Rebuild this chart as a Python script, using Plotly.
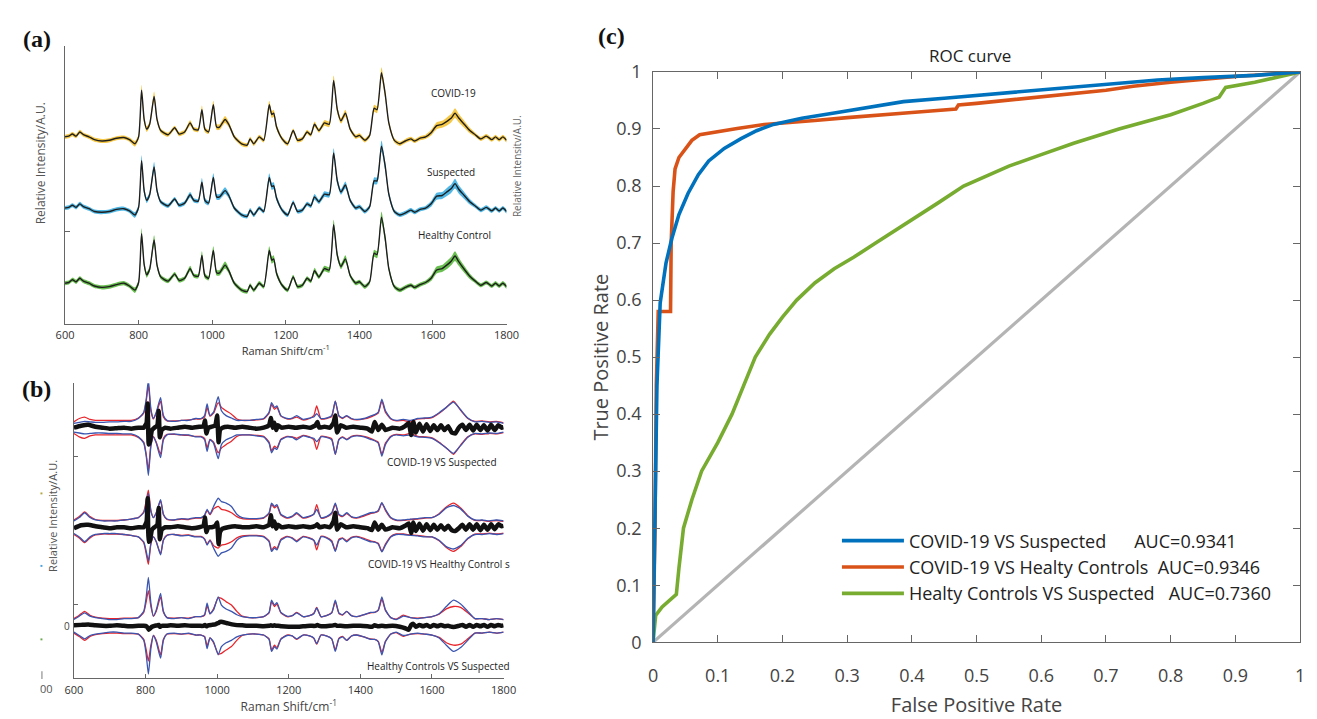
import plotly.graph_objects as go

W, H = 1317, 719

# ---------------- Panel (a): mean Raman spectra ----------------
raman_a = [600, 610, 620, 630, 640, 650, 665, 680, 700, 720,
           740, 760, 775, 790, 800, 808, 815, 822, 830, 842,
           850, 860, 880, 898, 910, 925, 940, 950, 962, 972,
           980, 990, 1003, 1012, 1020, 1035, 1045, 1060, 1080, 1095,
           1103, 1113, 1128, 1140, 1155, 1162, 1167, 1175, 1190, 1205,
           1220, 1232, 1245, 1258, 1268, 1278, 1290, 1305, 1318, 1330,
           1340, 1350, 1362, 1375, 1390, 1400, 1415, 1428, 1440, 1448,
           1460, 1470, 1480, 1495, 1510, 1525, 1540, 1550, 1565, 1580,
           1595, 1610, 1625, 1640, 1650, 1660, 1670, 1685, 1700, 1715,
           1730, 1745, 1760, 1770, 1780, 1790, 1800]

covid_mean = [0.11, 0.12, 0.15, 0.12, 0.18, 0.14, 0.11, 0.07, 0.05, 0.06,
              0.09, 0.10, 0.07, 0.01, 0.11, 0.78, 0.36, 0.22, 0.29, 0.69,
              0.36, 0.20, 0.14, 0.24, 0.15, 0.18, 0.31, 0.22, 0.21, 0.50,
              0.22, 0.18, 0.57, 0.25, 0.25, 0.36, 0.29, 0.11, 0.01, -0.01,
              0.08, 0.01, 0.11, 0.06, 0.57, 0.43, 0.45, 0.25, 0.08, 0.01,
              0.20, 0.06, 0.08, 0.18, 0.14, 0.29, 0.20, 0.31, 0.29, 0.92,
              0.50, 0.34, 0.45, 0.22, 0.11, 0.13, 0.06, 0.13, 0.52, 0.50,
              1.03, 0.73, 0.31, 0.06, 0.01, 0.05, 0.08, 0.05, 0.09, 0.11,
              0.17, 0.27, 0.29, 0.34, 0.38, 0.45, 0.38, 0.29, 0.20, 0.14,
              0.08, 0.12, 0.07, 0.11, 0.07, 0.11, 0.06]

suspected_mean = [0.11, 0.12, 0.15, 0.12, 0.17, 0.13, 0.10, 0.06, 0.05, 0.06,
                  0.09, 0.10, 0.07, 0.01, 0.12, 0.79, 0.36, 0.22, 0.30, 0.70,
                  0.36, 0.20, 0.14, 0.24, 0.15, 0.18, 0.30, 0.22, 0.21, 0.48,
                  0.22, 0.18, 0.55, 0.27, 0.27, 0.36, 0.29, 0.11, 0.01, -0.01,
                  0.08, 0.01, 0.11, 0.06, 0.55, 0.42, 0.43, 0.25, 0.08, 0.01,
                  0.19, 0.06, 0.08, 0.17, 0.14, 0.27, 0.20, 0.31, 0.30, 0.90,
                  0.50, 0.34, 0.44, 0.22, 0.11, 0.13, 0.06, 0.13, 0.50, 0.50,
                  1.00, 0.72, 0.31, 0.06, 0.01, 0.04, 0.08, 0.05, 0.09, 0.11,
                  0.17, 0.28, 0.29, 0.35, 0.39, 0.46, 0.38, 0.29, 0.20, 0.14,
                  0.08, 0.12, 0.07, 0.11, 0.07, 0.11, 0.06]

healthy_mean = [0.11, 0.12, 0.16, 0.13, 0.18, 0.14, 0.11, 0.07, 0.05, 0.06,
                0.09, 0.11, 0.07, 0.01, 0.12, 0.82, 0.38, 0.23, 0.31, 0.73,
                0.37, 0.20, 0.14, 0.24, 0.15, 0.18, 0.32, 0.22, 0.21, 0.51,
                0.22, 0.18, 0.58, 0.26, 0.26, 0.37, 0.29, 0.11, 0.01, -0.01,
                0.08, 0.01, 0.11, 0.06, 0.58, 0.44, 0.46, 0.25, 0.08, 0.01,
                0.20, 0.06, 0.08, 0.18, 0.14, 0.29, 0.20, 0.32, 0.30, 0.95,
                0.51, 0.35, 0.46, 0.22, 0.11, 0.13, 0.06, 0.13, 0.54, 0.52,
                1.06, 0.76, 0.32, 0.06, 0.01, 0.05, 0.08, 0.05, 0.09, 0.12,
                0.18, 0.30, 0.32, 0.38, 0.43, 0.50, 0.42, 0.31, 0.21, 0.14,
                0.08, 0.12, 0.07, 0.11, 0.07, 0.11, 0.06]

spectra_std = [0.03, 0.03, 0.03, 0.03, 0.03, 0.03, 0.03, 0.03, 0.03, 0.03,
               0.03, 0.03, 0.03, 0.04, 0.04, 0.08, 0.05, 0.04, 0.04, 0.07,
               0.04, 0.03, 0.03, 0.03, 0.03, 0.03, 0.04, 0.03, 0.03, 0.06,
               0.04, 0.03, 0.06, 0.04, 0.04, 0.05, 0.04, 0.03, 0.03, 0.03,
               0.03, 0.03, 0.03, 0.03, 0.06, 0.05, 0.05, 0.04, 0.03, 0.03,
               0.03, 0.03, 0.03, 0.03, 0.03, 0.04, 0.03, 0.04, 0.04, 0.07,
               0.05, 0.04, 0.05, 0.03, 0.03, 0.03, 0.03, 0.03, 0.05, 0.05,
               0.08, 0.06, 0.04, 0.03, 0.03, 0.03, 0.03, 0.03, 0.03, 0.03,
               0.04, 0.05, 0.05, 0.06, 0.06, 0.07, 0.06, 0.05, 0.04, 0.03,
               0.03, 0.03, 0.03, 0.03, 0.03, 0.03, 0.03]

groups_a = ["COVID-19", "Suspected", "Healthy Control"]

# ---------------- Panel (b): difference spectra ----------------
raman_b = [600, 615, 630, 645, 660, 680, 700, 720, 740, 760,
           780, 795, 802, 808, 815, 822, 830, 842, 850, 860,
           880, 900, 920, 940, 955, 965, 972, 980, 990, 1003,
           1012, 1025, 1040, 1055, 1070, 1090, 1110, 1130, 1145, 1152,
           1160, 1167, 1178, 1195, 1210, 1222, 1240, 1258, 1270, 1278,
           1290, 1305, 1320, 1330, 1340, 1350, 1362, 1375, 1390, 1410,
           1428, 1440, 1450, 1460, 1470, 1485, 1500, 1520, 1540, 1560,
           1580, 1600, 1620, 1640, 1660, 1680, 1700, 1720, 1740, 1760,
           1780, 1800]

cs_red_env = [0.12, 0.19, 0.22, 0.17, 0.15, 0.15, 0.15, 0.15, 0.15, 0.15,
              0.20, 0.30, 0.55, 0.88, 0.35, 0.18, 0.30, 0.55, 0.22, 0.14,
              0.14, 0.15, 0.16, 0.18, 0.18, 0.22, 0.42, 0.24, 0.30, 0.52,
              0.42, 0.35, 0.28, 0.18, 0.15, 0.15, 0.16, 0.18, 0.30, 0.48,
              0.38, 0.42, 0.24, 0.18, 0.19, 0.22, 0.16, 0.19, 0.25, 0.45,
              0.18, 0.19, 0.23, 0.55, 0.24, 0.19, 0.24, 0.18, 0.16, 0.18,
              0.22, 0.26, 0.30, 0.55, 0.32, 0.18, 0.14, 0.15, 0.12, 0.18,
              0.19, 0.21, 0.30, 0.42, 0.55, 0.36, 0.19, 0.13, 0.14, 0.12,
              0.13, 0.10]
cs_blue_env = [0.09, 0.11, 0.13, 0.12, 0.11, 0.11, 0.12, 0.12, 0.13, 0.13,
               0.19, 0.32, 0.59, 0.99, 0.39, 0.19, 0.32, 0.62, 0.25, 0.15,
               0.13, 0.15, 0.15, 0.19, 0.19, 0.25, 0.49, 0.25, 0.32, 0.64,
               0.35, 0.25, 0.20, 0.15, 0.15, 0.15, 0.17, 0.19, 0.32, 0.52,
               0.42, 0.45, 0.25, 0.19, 0.20, 0.25, 0.17, 0.20, 0.22, 0.29,
               0.19, 0.20, 0.25, 0.55, 0.25, 0.20, 0.25, 0.19, 0.17, 0.19,
               0.24, 0.27, 0.32, 0.59, 0.35, 0.19, 0.15, 0.17, 0.15, 0.19,
               0.20, 0.22, 0.31, 0.42, 0.53, 0.37, 0.20, 0.12, 0.13, 0.11,
               0.12, 0.09]
ch_red_env = [0.15, 0.22, 0.32, 0.22, 0.16, 0.14, 0.14, 0.14, 0.15, 0.17,
              0.20, 0.32, 0.55, 0.77, 0.35, 0.20, 0.30, 0.55, 0.26, 0.16,
              0.15, 0.17, 0.16, 0.19, 0.19, 0.24, 0.35, 0.26, 0.38, 0.43,
              0.37, 0.35, 0.30, 0.22, 0.18, 0.17, 0.17, 0.19, 0.28, 0.47,
              0.40, 0.44, 0.25, 0.19, 0.22, 0.28, 0.19, 0.22, 0.27, 0.47,
              0.19, 0.21, 0.28, 0.48, 0.25, 0.22, 0.28, 0.21, 0.19, 0.23,
              0.28, 0.30, 0.33, 0.50, 0.35, 0.19, 0.14, 0.14, 0.16, 0.17,
              0.19, 0.20, 0.28, 0.42, 0.50, 0.40, 0.24, 0.14, 0.14, 0.12,
              0.14, 0.12]
ch_blue_env = [0.13, 0.20, 0.30, 0.20, 0.15, 0.13, 0.13, 0.13, 0.15, 0.17,
               0.20, 0.30, 0.50, 0.70, 0.33, 0.20, 0.30, 0.57, 0.27, 0.17,
               0.15, 0.18, 0.17, 0.20, 0.20, 0.25, 0.37, 0.27, 0.43, 0.60,
               0.53, 0.50, 0.43, 0.27, 0.20, 0.18, 0.18, 0.20, 0.30, 0.50,
               0.43, 0.47, 0.27, 0.20, 0.23, 0.30, 0.20, 0.23, 0.27, 0.37,
               0.20, 0.22, 0.30, 0.50, 0.27, 0.23, 0.30, 0.22, 0.20, 0.25,
               0.30, 0.31, 0.35, 0.51, 0.37, 0.20, 0.15, 0.15, 0.17, 0.18,
               0.20, 0.20, 0.27, 0.40, 0.45, 0.38, 0.23, 0.15, 0.15, 0.13,
               0.15, 0.13]
hs_red_env = [0.15, 0.22, 0.30, 0.22, 0.18, 0.16, 0.15, 0.15, 0.16, 0.16,
              0.17, 0.28, 0.50, 0.73, 0.40, 0.20, 0.30, 0.60, 0.28, 0.17,
              0.16, 0.17, 0.16, 0.19, 0.19, 0.22, 0.42, 0.25, 0.35, 0.58,
              0.57, 0.50, 0.43, 0.30, 0.20, 0.17, 0.17, 0.19, 0.27, 0.50,
              0.40, 0.45, 0.27, 0.19, 0.21, 0.28, 0.19, 0.21, 0.26, 0.38,
              0.19, 0.21, 0.27, 0.50, 0.26, 0.22, 0.30, 0.21, 0.19, 0.23,
              0.27, 0.28, 0.32, 0.55, 0.32, 0.17, 0.14, 0.22, 0.17, 0.16,
              0.17, 0.19, 0.24, 0.35, 0.40, 0.38, 0.27, 0.15, 0.15, 0.13,
              0.15, 0.13]
hs_blue_env = [0.13, 0.20, 0.27, 0.20, 0.17, 0.15, 0.13, 0.13, 0.15, 0.15,
               0.17, 0.30, 0.60, 1.00, 0.47, 0.20, 0.33, 0.67, 0.30, 0.17,
               0.15, 0.17, 0.15, 0.19, 0.19, 0.23, 0.47, 0.25, 0.33, 0.60,
               0.43, 0.35, 0.30, 0.23, 0.19, 0.17, 0.17, 0.19, 0.28, 0.53,
               0.43, 0.48, 0.28, 0.20, 0.21, 0.27, 0.19, 0.21, 0.25, 0.37,
               0.19, 0.21, 0.27, 0.53, 0.27, 0.23, 0.30, 0.21, 0.19, 0.23,
               0.28, 0.28, 0.33, 0.60, 0.33, 0.17, 0.13, 0.20, 0.17, 0.15,
               0.17, 0.19, 0.25, 0.40, 0.53, 0.45, 0.30, 0.15, 0.15, 0.13,
               0.15, 0.13]

raman_diff = [600, 620, 640, 660, 680, 700, 720, 740, 760, 780,
              795, 803, 806, 809, 812, 818, 825, 833, 837, 840,
              845, 855, 870, 890, 910, 930, 950, 962, 966, 970,
              975, 985, 995, 1000, 1004, 1008, 1015, 1030, 1050, 1070,
              1090, 1110, 1130, 1145, 1150, 1155, 1160, 1165, 1170, 1180,
              1200, 1220, 1240, 1260, 1275, 1280, 1285, 1300, 1315, 1325,
              1330, 1335, 1345, 1360, 1380, 1400, 1420, 1432, 1440, 1450,
              1460, 1470, 1490, 1510, 1525, 1535, 1542, 1548, 1555, 1565,
              1575, 1585, 1595, 1605, 1615, 1625, 1635, 1645, 1655, 1665,
              1675, 1685, 1695, 1705, 1715, 1725, 1735, 1745, 1755, 1765,
              1775, 1785, 1795, 1800]

cs_diff = [0.00, 0.04, 0.06, 0.02, 0.00, -0.02, -0.01, 0.00, -0.02, 0.00,
           0.00, 0.10, 0.50, -0.35, -0.30, -0.05, 0.00, 0.05, 0.35, -0.20,
           -0.05, 0.00, -0.02, 0.00, 0.02, 0.00, 0.02, 0.03, 0.15, -0.12,
           0.00, 0.02, 0.05, 0.25, -0.30, -0.05, 0.00, 0.02, 0.00, 0.02,
           0.00, -0.02, 0.00, 0.05, 0.20, 0.00, 0.10, -0.05, 0.05, 0.00,
           0.02, 0.00, 0.02, 0.00, 0.05, 0.12, 0.00, 0.02, 0.00, 0.10,
           0.25, -0.10, 0.05, 0.00, 0.02, 0.00, -0.02, -0.08, 0.12, -0.05,
           0.06, -0.05, 0.00, -0.02, 0.03, 0.10, -0.15, 0.12, -0.10, 0.08,
           -0.08, 0.07, -0.07, 0.05, -0.05, 0.05, -0.05, 0.03, -0.10, -0.12,
           0.00, 0.06, -0.05, 0.06, -0.06, 0.06, -0.05, 0.05, -0.06, 0.06,
           -0.05, 0.05, 0.00, 0.01]
ch_diff = [-0.02, 0.04, 0.05, 0.02, 0.00, -0.02, 0.00, 0.00, -0.02, 0.00,
           0.00, 0.12, 0.60, -0.30, -0.28, -0.05, 0.00, 0.05, 0.40, -0.25,
           -0.05, 0.00, 0.00, 0.02, 0.00, -0.02, 0.00, 0.03, 0.20, -0.10,
           0.00, 0.00, 0.03, 0.10, -0.35, -0.10, -0.03, 0.00, 0.02, 0.00,
           0.00, 0.02, 0.00, 0.05, 0.25, 0.02, 0.12, -0.03, 0.05, 0.00,
           0.02, 0.00, 0.02, 0.00, 0.03, 0.06, 0.00, 0.02, 0.00, 0.12,
           0.30, -0.05, 0.06, 0.00, 0.02, 0.00, -0.02, -0.06, 0.10, -0.05,
           0.05, -0.05, 0.00, -0.02, 0.03, 0.08, -0.12, 0.10, -0.08, 0.07,
           -0.07, 0.06, -0.06, 0.05, -0.05, 0.04, -0.05, 0.03, -0.06, -0.08,
           -0.02, 0.05, -0.05, 0.06, -0.05, 0.06, -0.06, 0.05, -0.05, 0.06,
           -0.04, 0.06, 0.02, 0.03]
hs_diff = [0.01, 0.02, 0.03, 0.01, 0.00, 0.00, 0.01, 0.00, -0.01, 0.00,
           0.00, -0.01, -0.04, -0.08, -0.06, -0.02, 0.00, 0.01, 0.02, -0.02,
           0.00, 0.00, 0.01, 0.00, 0.01, 0.00, 0.00, 0.00, 0.02, -0.01,
           0.01, 0.02, 0.03, 0.05, 0.06, 0.08, 0.08, 0.05, 0.02, 0.01,
           0.00, 0.00, -0.01, 0.00, 0.01, 0.00, 0.01, 0.00, 0.00, -0.01,
           -0.02, -0.02, -0.01, 0.00, 0.00, 0.02, 0.00, -0.01, 0.00, 0.01,
           0.02, 0.00, 0.00, -0.01, 0.00, 0.00, -0.01, -0.02, 0.01, -0.01,
           0.00, -0.01, 0.00, -0.02, -0.05, -0.08, 0.02, 0.04, -0.02, 0.02,
           -0.01, 0.02, -0.02, 0.02, -0.01, 0.02, -0.01, 0.00, -0.02, -0.02,
           0.00, 0.02, -0.02, 0.02, -0.02, 0.02, -0.01, 0.02, -0.02, 0.02,
           -0.01, 0.02, 0.00, 0.01]

comparisons_b = ["COVID-19 VS Suspected", "COVID-19 VS Healthy Control s",
                 "Healthy Controls VS Suspected"]

# ---------------- Panel (c): ROC curves ----------------
fpr_cs = [0, 0.003, 0.006, 0.011, 0.02, 0.029, 0.04, 0.054, 0.07, 0.086,
          0.11, 0.136, 0.16, 0.186, 0.23, 0.28, 0.33, 0.387, 0.45, 0.5,
          0.6, 0.67, 0.78, 0.85, 0.93, 1.0]
tpr_cs = [0, 0.25, 0.45, 0.595, 0.665, 0.708, 0.75, 0.787, 0.82, 0.844,
          0.866, 0.883, 0.897, 0.908, 0.919, 0.928, 0.938, 0.948, 0.954, 0.959,
          0.969, 0.976, 0.986, 0.99, 0.994, 1.0]
fpr_ch = [0, 0.003, 0.005, 0.008, 0.027, 0.028, 0.031, 0.034, 0.04, 0.05,
          0.06, 0.072, 0.1, 0.13, 0.172, 0.2, 0.25, 0.3, 0.35, 0.4,
          0.468, 0.472, 0.5, 0.6, 0.7, 0.742, 0.8, 0.9, 1.0]
tpr_ch = [0, 0.2, 0.45, 0.58, 0.58, 0.7, 0.79, 0.83, 0.85, 0.865,
          0.88, 0.89, 0.896, 0.901, 0.908, 0.911, 0.915, 0.92, 0.925, 0.929,
          0.935, 0.942, 0.945, 0.956, 0.968, 0.975, 0.982, 0.992, 1.0]
fpr_hs = [0, 0.004, 0.014, 0.025, 0.036, 0.04, 0.047, 0.06, 0.075, 0.1,
          0.122, 0.14, 0.158, 0.18, 0.2, 0.222, 0.25, 0.28, 0.31, 0.344,
          0.4, 0.44, 0.48, 0.55, 0.6, 0.65, 0.72, 0.8, 0.85, 0.875,
          0.885, 0.93, 1.0]
tpr_hs = [0, 0.047, 0.062, 0.072, 0.084, 0.13, 0.2, 0.25, 0.3, 0.35,
          0.4, 0.45, 0.5, 0.54, 0.57, 0.6, 0.63, 0.655, 0.675, 0.7,
          0.74, 0.77, 0.8, 0.835, 0.855, 0.875, 0.9, 0.925, 0.945, 0.956,
          0.973, 0.982, 1.0]
roc_names = ["COVID-19 VS Suspected\u00a0\u00a0\u00a0\u00a0\u00a0\u00a0AUC=0.9341",
             "COVID-19 VS Healty Controls\u00a0\u00a0AUC=0.9346",
             "Healty Controls VS Suspected\u00a0\u00a0\u00a0AUC=0.7360"]

# ---------------- layout helpers (positions only) ----------------
def px(x, y):
    return x / W, 1 - y / H

FONT = "Open Sans"
fig = go.Figure()

# ----- panel (a) -----
base_a = [2.583, 1.56, 0.48]
band_colors = ["rgba(245,190,40,0.85)", "rgba(50,170,225,0.85)", "rgba(80,180,50,0.85)"]
for mean, base, bc in zip([covid_mean, suspected_mean, healthy_mean], base_a, band_colors):
    up = [base + m + s for m, s in zip(mean, spectra_std)]
    lo = [base + m - s for m, s in zip(mean, spectra_std)]
    fig.add_trace(go.Scatter(x=raman_a + raman_a[::-1], y=up + lo[::-1], fill="toself",
                             fillcolor=bc, line=dict(width=0, shape="spline", smoothing=0.6),
                             mode="lines", hoverinfo="skip", showlegend=False,
                             xaxis="x", yaxis="y"))
    fig.add_trace(go.Scatter(x=raman_a, y=[base + m for m in mean], mode="lines",
                             line=dict(color="#1e1e1e", width=1.4, shape="spline", smoothing=0.6),
                             showlegend=False, xaxis="x", yaxis="y"))

# ----- panel (b) -----
center_b = [4.1, 2.04, 0.0]
for red, blue, diff, c in zip([cs_red_env, ch_red_env, hs_red_env],
                              [cs_blue_env, ch_blue_env, hs_blue_env],
                              [cs_diff, ch_diff, hs_diff], center_b):
    for env, col in [(red, "#e8242a"), (blue, "#3a55b0")]:
        fig.add_trace(go.Scatter(x=raman_b, y=[c + e for e in env], mode="lines",
                                 line=dict(color=col, width=1.3, shape="spline", smoothing=0.5),
                                 showlegend=False, xaxis="x2", yaxis="y2"))
        fig.add_trace(go.Scatter(x=raman_b, y=[c - e for e in env], mode="lines",
                                 line=dict(color=col, width=1.3, shape="spline", smoothing=0.5),
                                 showlegend=False, xaxis="x2", yaxis="y2"))
    fig.add_trace(go.Scatter(x=raman_diff, y=[c + d for d in diff], mode="lines",
                             line=dict(color="#111111", width=4.5, shape="spline", smoothing=0.4),
                             showlegend=False, xaxis="x2", yaxis="y2"))

# ----- panel (c) -----
fig.add_trace(go.Scatter(x=[0, 1], y=[0, 1], mode="lines",
                         line=dict(color="#b4b4b4", width=3.2),
                         showlegend=False, xaxis="x3", yaxis="y3"))
for f, t, name, col, rank in [(fpr_hs, tpr_hs, roc_names[2], "#77AC30", 3),
                              (fpr_ch, tpr_ch, roc_names[1], "#D95319", 2),
                              (fpr_cs, tpr_cs, roc_names[0], "#0072BD", 1)]:
    fig.add_trace(go.Scatter(x=f, y=t, mode="lines", name=name, legendrank=rank,
                             line=dict(color=col, width=3.6),
                             xaxis="x3", yaxis="y3"))

# ----- axes -----
axis_common = dict(showgrid=False, zeroline=False, showline=True, linecolor="#666",
                   linewidth=1, ticks="inside", tickcolor="#666")
roc_ticks = [0, 0.1, 0.2, 0.3, 0.4, 0.5, 0.6, 0.7, 0.8, 0.9, 1]
roc_text = ["0", "0.1", "0.2", "0.3", "0.4", "0.5", "0.6", "0.7", "0.8", "0.9", "1"]

fig.update_layout(
    width=W, height=H, margin=dict(l=0, r=0, t=0, b=0),
    paper_bgcolor="white", plot_bgcolor="white",
    font=dict(family=FONT, color="#333"),
    xaxis=dict(axis_common, domain=[57 / W, 506 / W], range=[600, 1800],
               tickvals=[600, 800, 1000, 1200, 1400, 1600, 1800], ticklen=4,
               tickfont=dict(size=11, color="#333"), ticklabelstandoff=1,
               title=dict(text="Raman Shift/cm<sup>-1</sup>", font=dict(size=11, color="#333"),
                          standoff=1),
               anchor="y"),
    yaxis=dict(axis_common, domain=[1 - 322 / H, 1 - 34 / H], range=[0, 4],
               tickvals=[4 / 3, 4], showticklabels=False, ticklen=5, anchor="x"),
    xaxis2=dict(axis_common, domain=[66 / W, 503 / W], range=[600, 1800],
                tickvals=[600, 800, 1000, 1200, 1400, 1600, 1800], ticklen=4,
                tickfont=dict(size=11, color="#333"), ticklabelstandoff=2,
                title=dict(text="Raman Shift/cm<sup>-1</sup>", font=dict(size=12, color="#444"),
                           standoff=2),
                anchor="y2"),
    yaxis2=dict(axis_common, domain=[1 - 688 / H, 1 - 383 / H], range=[-1.08, 5.02],
                tickvals=[0.44, 3.5, 5.02], showticklabels=False, ticklen=4, anchor="x2"),
    xaxis3=dict(axis_common, domain=[655 / W, 1313 / W], range=[0, 1], mirror="ticks",
                tickvals=roc_ticks, ticktext=roc_text,
                ticklen=7, tickfont=dict(size=18, color="#444"), ticklabelstandoff=17,
                title=dict(text="False Positive Rate", font=dict(size=20, color="#444"), standoff=12),
                anchor="y3"),
    yaxis3=dict(axis_common, domain=[1 - 651 / H, 1 - 61 / H], range=[0, 1], mirror="ticks",
                tickvals=roc_ticks, ticktext=roc_text,
                ticklen=7, tickfont=dict(size=18, color="#444"), ticklabelstandoff=7,
                title=dict(text="True Positive Rate", font=dict(size=20, color="#444"), standoff=2),
                anchor="x3"),
    legend=dict(x=842 / W, y=1 - 527 / H, xanchor="left", yanchor="top",
                bgcolor="rgba(0,0,0,0)", font=dict(size=18, color="#222", family=FONT),
                itemwidth=62, tracegroupgap=0),
)

annotations = []
def note(text, x, y, size, color="#333", family=FONT, angle=0, bold=False):
    xx, yy = px(x, y)
    annotations.append(dict(text=f"<b>{text}</b>" if bold else text, x=xx, y=yy,
                            xref="paper", yref="paper", showarrow=False,
                            xanchor="center", yanchor="middle", textangle=angle,
                            font=dict(size=size, color=color, family=family)))

note("(a)", 28, 27, 24, "#111", "Liberation Serif", bold=True)
note("(b)", 28, 389, 24, "#111", "Liberation Serif", bold=True)
note("(c)", 613, 24, 24, "#111", "Liberation Serif", bold=True)
note("ROC curve", 977, 44, 17, "#222")

for name, (xx, yy) in zip(groups_a, [(452, 83), (450, 164), (453, 230)]):
    note(name, xx, yy, 10, "#222")
note("Relative Intensity/A.U.", 32, 155, 12, "#555", angle=-90)
note("Relative Intensitv/A.U.", 516, 158, 10, "#666", angle=-90)

for name, (xx, yy) in zip(comparisons_b, [(440, 464), (437, 570), (437, 676)]):
    note(name, xx, yy, 10, "#222")
note("Relative Intensity/A.U.", 44, 520, 11, "#555", angle=-90)
note("0", 59, 634, 10, "#444")
note("00", 38, 699, 11, "#555")

fig.update_layout(annotations=annotations)

# tiny stray legend marks at the left margin of panel (b)
for (xx, yy, col) in [(33, 497, "#b5a642"), (33, 572, "#4aa3df"), (33, 648, "#6aa84f")]:
    x0, y0 = px(xx - 1, yy - 1)
    x1, y1 = px(xx + 1, yy + 1)
    fig.add_shape(type="rect", xref="paper", yref="paper", x0=x0, x1=x1, y0=y1, y1=y0,
                  line=dict(width=0), fillcolor=col)
x0, y0 = px(33, 681)
x1, y1 = px(34, 689)
fig.add_shape(type="rect", xref="paper", yref="paper", x0=x0, x1=x1, y0=y1, y1=y0,
              line=dict(width=0), fillcolor="#777")

fig.write_html("out.html")
